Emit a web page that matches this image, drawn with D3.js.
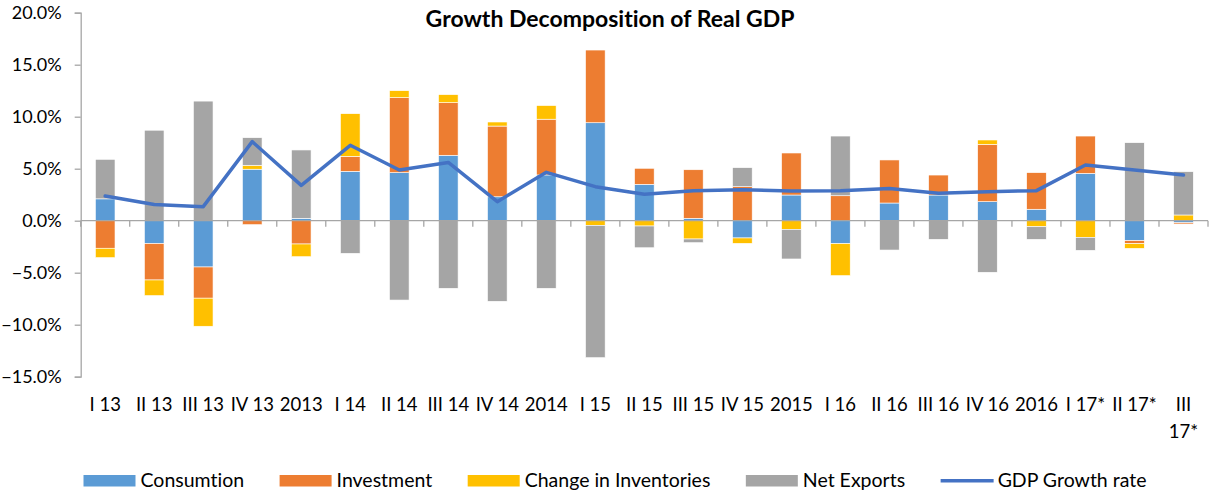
<!DOCTYPE html>
<html>
<head>
<meta charset="utf-8">
<script src="https://d3js.org/d3.v7.min.js"></script>
<style>
  body { margin: 0; background: #fff; }
  text { font-family: Lato, "Open Sans", sans-serif; fill: #000; font-variant-ligatures: none; }
</style>
</head>
<body>
<script>
// categories (quarters and full years)
var categories = ["I 13","II 13","III 13","IV 13","2013","I 14","II 14","III 14","IV 14","2014",
                  "I 15","II 15","III 15","IV 15","2015","I 16","II 16","III 16","IV 16","2016",
                  "I 17*","II 17*","III 17*"];

// contributions, percentage points
var consumption = [2.1, -2.2, -4.45, 4.95, 0.23, 4.75, 4.62, 6.29, 2.3, 4.4, 9.42, 3.5, 0.23, -1.66, 2.47, -2.21, 1.7, 2.47, 1.83, 1.1, 4.55, -1.92, -0.2];
var investment  = [-2.65, -3.5, -3.0, -0.38, -2.24, 1.44, 7.21, 5.06, 6.8, 5.36, 6.99, 1.54, 4.67, 3.27, 4.04, 2.4, 4.14, 1.92, 5.51, 3.52, 3.59, -0.29, -0.12];
var inventories = [-0.9, -1.5, -2.7, 0.38, -1.22, 4.1, 0.67, 0.77, 0.39, 1.31, -0.45, -0.51, -1.76, -0.52, -0.83, -3.07, 0, 0, 0.42, -0.58, -1.6, -0.45, 0.55];
var netExports  = [3.8, 8.7, 11.5, 2.65, 6.57, -3.14, -7.63, -6.5, -7.75, -6.5, -12.72, -2.09, -0.35, 1.83, -2.85, 5.74, -2.82, -1.79, -4.96, -1.21, -1.25, 7.5, 4.16];
var gdpGrowth   = [2.37, 1.55, 1.35, 7.6, 3.4, 7.25, 4.87, 5.6, 1.83, 4.65, 3.27, 2.54, 2.88, 2.98, 2.85, 2.89, 3.1, 2.63, 2.79, 2.89, 5.36, 4.88, 4.39];

var yTicks = [-15, -10, -5, 0, 5, 10, 15, 20];

var seriesNames = ["Consumtion", "Investment", "Change in Inventories", "Net Exports"];
var seriesKeys  = ["consumption", "investment", "inventories", "netExports"];
var colors = {consumption: "#5B9BD5", investment: "#ED7D31", inventories: "#FFC000", netExports: "#A5A5A5"};
var lineColor = "#4472C4";

var width = 1211, height = 494;

// build rows for d3.stack
var rows = categories.map(function(c, i) {
  return {cat: c, consumption: consumption[i], investment: investment[i],
          inventories: inventories[i], netExports: netExports[i], gdp: gdpGrowth[i]};
});

var svg = d3.select("body").append("svg")
  .attr("width", width)
  .attr("height", height)
  .style("background", "#fff");

var x = d3.scaleBand()
  .domain(categories)
  .range([80.7, 1208])
  .paddingInner(0.6)
  .paddingOuter(0.3);

var y = d3.scaleLinear()
  .domain([-15, 20])
  .range([376.7, 12.7]);

var stack = d3.stack()
  .keys(seriesKeys)
  .offset(d3.stackOffsetDiverging);
var stacked = stack(rows);

// bars
svg.append("g").selectAll("g")
  .data(stacked)
  .join("g")
    .attr("fill", function(d) { return colors[d.key]; })
  .selectAll("rect")
  .data(function(d) { return d; })
  .join("rect")
    .attr("x", function(d) { return x(d.data.cat); })
    .attr("width", x.bandwidth())
    .attr("y", function(d) { return y(Math.max(d[0], d[1])); })
    .attr("height", function(d) { return Math.abs(y(d[0]) - y(d[1])); })
    .attr("stroke", "#fff")
    .attr("stroke-width", 0.6);

// y axis
var yAxis = d3.axisLeft(y)
  .tickValues(yTicks)
  .tickFormat(function(v) { return d3.format(".1%")(v / 100); })
  .tickSize(6)
  .tickPadding(13);

var gy = svg.append("g")
  .attr("transform", "translate(80.7,0)")
  .call(yAxis);
gy.select(".domain").attr("stroke", "#A6A6A6").attr("stroke-width", 1.3);
gy.selectAll(".tick line").attr("stroke", "#A6A6A6").attr("stroke-width", 1.3);
gy.selectAll(".tick text").style("font-size", "18px").attr("fill", "#000");

// x axis line at zero with tick marks at category boundaries
var y0 = y(0);
svg.append("line")
  .attr("x1", x.range()[0]).attr("x2", x.range()[1])
  .attr("y1", y0).attr("y2", y0)
  .attr("stroke", "#A6A6A6").attr("stroke-width", 1.3);

svg.append("g").selectAll("line")
  .data(d3.range(categories.length + 1))
  .join("line")
    .attr("x1", function(i) { return x.range()[0] + i * x.step(); })
    .attr("x2", function(i) { return x.range()[0] + i * x.step(); })
    .attr("y1", y0).attr("y2", y0 + 6)
    .attr("stroke", "#A6A6A6").attr("stroke-width", 1.3);

// category labels at the bottom, wrapped when too wide
var labels = svg.append("g").selectAll("text")
  .data(categories)
  .join("text")
    .attr("x", function(d) { return x(d) + x.bandwidth() / 2; })
    .attr("y", 411)
    .attr("text-anchor", "middle")
    .style("font-size", "18.5px")
    .text(function(d) { return d; });

labels.each(function(d) {
  var t = d3.select(this);
  if (this.getComputedTextLength() > x.step() - 2) {
    var words = d.split(" ");
    var cx = t.attr("x");
    t.text(null);
    words.forEach(function(w, k) {
      t.append("tspan").attr("x", cx).attr("dy", k === 0 ? 0 : 26.7).text(w);
    });
  }
});

// GDP growth line
var line = d3.line()
  .x(function(d) { return x(d.cat) + x.bandwidth() / 2; })
  .y(function(d) { return y(d.gdp); });

svg.append("path")
  .datum(rows)
  .attr("d", line)
  .attr("fill", "none")
  .attr("stroke", lineColor)
  .attr("stroke-width", 3.5)
  .attr("stroke-linejoin", "round")
  .attr("stroke-linecap", "round");

// title
svg.append("text")
  .attr("x", 610)
  .attr("y", 27)
  .attr("text-anchor", "middle")
  .style("font-size", "23px")
  .style("font-weight", "bold")
  .text("Growth Decomposition of Real GDP");

// legend
var legend = svg.append("g");
var lx = 0;
var items = seriesNames.map(function(n, i) { return {name: n, key: seriesKeys[i], type: "rect"}; });
items.push({name: "GDP Growth rate", key: "gdp", type: "line"});

items.forEach(function(it) {
  var g = legend.append("g").attr("transform", "translate(" + lx + ",0)");
  if (it.type === "rect") {
    g.append("rect").attr("x", 0).attr("y", 475).attr("width", 52).attr("height", 11.5)
      .attr("fill", colors[it.key]);
  } else {
    g.append("line").attr("x1", 0).attr("x2", 53).attr("y1", 480.7).attr("y2", 480.7)
      .attr("stroke", lineColor).attr("stroke-width", 3.5);
  }
  var t = g.append("text").attr("x", 57).attr("y", 487)
    .style("font-size", "19.5px").text(it.name);
  lx += 57 + t.node().getComputedTextLength() + 35.5;
});
lx -= 35.5;
legend.attr("transform", "translate(" + (615 - lx / 2) + ",0)");
</script>
</body>
</html>
